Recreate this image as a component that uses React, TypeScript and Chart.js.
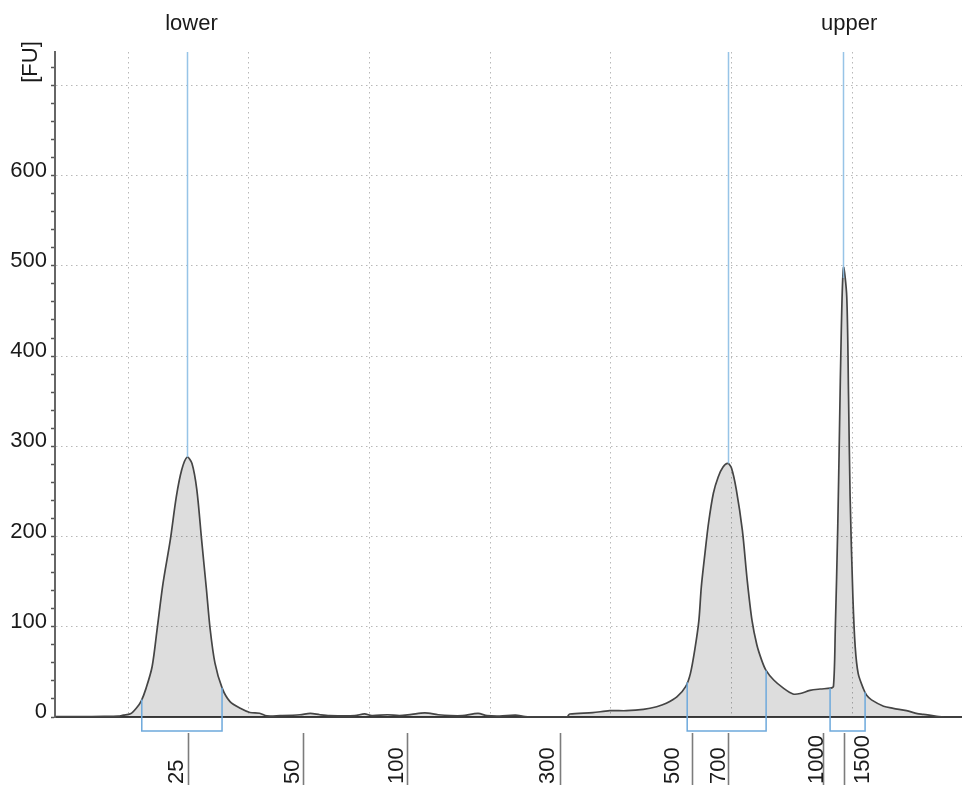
import React, { useEffect, useRef } from 'react';
import { Chart, registerables } from 'chart.js';

Chart.register(...registerables);

// Migration time (s) and fluorescence (FU)
const timeSec = [
  44.0, 46.0, 48.0, 49.2, 49.6, 50.2, 50.7, 51.1, 51.5, 52.0, 52.4, 52.9, 53.5, 54.0, 54.45, 54.9,
  55.3, 55.7, 56.1, 56.5, 56.8, 57.2, 57.8, 58.45, 59.3, 60.1, 60.9, 61.5, 62.6, 64.25, 65.1, 65.9,
  66.7, 68.8, 69.6, 70.2, 71.5, 72.5, 73.5, 74.6, 75.7, 76.7, 77.7, 79.0, 79.75, 80.8, 82.1, 82.9,
  84.1, 85.8, 86.4, 86.6, 88.5, 89.9, 91.3, 92.7, 93.8, 94.6, 95.5, 96.2, 96.6, 97.0, 97.3, 97.5,
  97.8, 98.1, 98.5, 98.9, 99.3, 99.7, 100.0, 100.4, 100.9, 101.3, 101.7, 102.1, 102.5, 102.85, 103.5,
  104.3, 105.1, 105.7, 106.5, 107.35, 108.2, 108.45, 108.6, 108.8, 108.95, 109.1, 109.28, 109.55,
  109.7, 109.83, 110.06, 110.25, 110.5, 110.94, 111.2, 111.6, 112.6, 113.4, 114.5, 115.4, 115.9,
  117.0, 117.6,
];
const fluorescence = [
  0.5, 0.5, 0.6, 1.0, 2.0, 3.5, 10, 18, 32, 56, 96, 148, 196, 244, 274, 288,
  281, 252, 196, 141, 98, 60, 32, 17, 9.6, 5, 4.2, 1.2, 1.5, 2.5, 4, 2.5,
  1.5, 1.5, 3.5, 1.5, 2.5, 1.5, 3, 4.5, 2.5, 1.5, 1.5, 4, 1.5, 1, 2, 0.5,
  0, 0, 0.5, 3.3, 4.8, 7, 7, 8.5, 11.4, 15.2, 22.5, 33.6, 48.4, 78, 107, 144,
  181, 215, 248, 266, 277, 281, 276, 252, 207, 152, 107, 80, 63, 52, 41,
  32, 25.5, 26, 29.5, 31, 32, 34, 96, 207, 318, 429, 498, 466,
  355, 244, 133, 78, 48, 31, 24, 19, 12, 9.6, 7, 3.8, 3.0,
  0.8, 0,
];

const gridTimes = [50, 60, 70, 80, 90, 100, 110];
const yTickValues = [0, 20, 40, 60, 80, 100, 120, 140, 160, 180, 200, 220, 240, 260, 280, 300, 320, 340, 360, 380, 400, 420, 440, 460, 480, 500, 520, 540, 560, 580, 600, 620, 640, 660, 680, 700, 720];
const yLabelled = [0, 100, 200, 300, 400, 500, 600];

const ladderSizes = ['25', '50', '100', '300', '500', '700', '1000', '1500'];
const ladderTimes = [54.95, 64.5, 73.1, 85.8, 96.7, 99.7, 107.6, 109.3];

const markerNames = ['lower', '', 'upper'];
const markerTimes = [54.9, 99.7, 109.25];

const regionStarts = [51.14, 96.33, 108.17];
const regionEnds = [57.79, 102.87, 111.07];

// layout-only: offset of each ladder label baseline from its line (px, negative = left)
const ladderLabelShift = [-6, -5, -5, -7, -14, -4, -1, 24];

const FONT = '"Liberation Sans", Arial, sans-serif';

function valueAt(t: number): number {
  if (t <= timeSec[0]) return fluorescence[0];
  for (let i = 1; i < timeSec.length; i++) {
    if (t <= timeSec[i]) {
      const f = (t - timeSec[i - 1]) / (timeSec[i] - timeSec[i - 1]);
      return fluorescence[i - 1] + f * (fluorescence[i] - fluorescence[i - 1]);
    }
  }
  return fluorescence[fluorescence.length - 1];
}

const overlay = {
  id: 'overlay',
  afterDatasetsDraw(chart: any) {
    const { ctx, chartArea, scales } = chart;
    const x = scales.x;
    const y = scales.y;
    ctx.save();
    // marker lines
    ctx.strokeStyle = 'rgba(140,190,228,0.9)';
    ctx.lineWidth = 1.5;
    markerTimes.forEach((t) => {
      const px = Math.round(x.getPixelForValue(t)) + 0.5;
      const py = y.getPixelForValue(valueAt(t));
      ctx.beginPath();
      ctx.moveTo(px, chartArea.top);
      ctx.lineTo(px, py);
      ctx.stroke();
    });
    // integration brackets
    const by = chartArea.bottom + 14;
    ctx.strokeStyle = '#6ea9dc';
    ctx.lineWidth = 1.5;
    regionStarts.forEach((s, i) => {
      const e = regionEnds[i];
      const x1 = x.getPixelForValue(s);
      const x2 = x.getPixelForValue(e);
      ctx.beginPath();
      ctx.moveTo(x1, y.getPixelForValue(valueAt(s)));
      ctx.lineTo(x1, by);
      ctx.lineTo(x2, by);
      ctx.lineTo(x2, y.getPixelForValue(valueAt(e)));
      ctx.stroke();
    });
    ctx.restore();
  },
  afterDraw(chart: any) {
    const { ctx, chartArea, scales } = chart;
    const x = scales.x;
    const H = chart.height;
    ctx.save();
    // ladder lines and labels
    ctx.font = `22px ${FONT}`;
    ctx.fillStyle = '#1a1a1a';
    ladderTimes.forEach((t, i) => {
      const px = Math.round(x.getPixelForValue(t)) + 0.5;
      ctx.strokeStyle = '#7c7c7c';
      ctx.lineWidth = 1.6;
      ctx.beginPath();
      ctx.moveTo(px, chartArea.bottom + 16);
      ctx.lineTo(px, H);
      ctx.stroke();
      ctx.save();
      ctx.translate(px + ladderLabelShift[i], H - 1);
      ctx.rotate(-Math.PI / 2);
      ctx.textAlign = 'left';
      ctx.textBaseline = 'alphabetic';
      ctx.fillText(ladderSizes[i], 0, 0);
      ctx.restore();
    });
    // marker names
    ctx.textAlign = 'left';
    ctx.textBaseline = 'alphabetic';
    markerNames.forEach((n, i) => {
      if (!n) return;
      const px = x.getPixelForValue(markerTimes[i]);
      ctx.fillText(n, px - 22, 30);
    });
    // y unit label
    ctx.save();
    ctx.translate(37, 62);
    ctx.rotate(-Math.PI / 2);
    ctx.textAlign = 'center';
    ctx.fillText('[FU]', 0, 0);
    ctx.restore();
    ctx.restore();
  },
};

export default function App() {
  const ref = useRef<HTMLCanvasElement | null>(null);
  useEffect(() => {
    document.body.style.margin = '0';
    const canvas = ref.current;
    if (!canvas) return;
    const points = timeSec.map((t, i) => ({ x: t, y: fluorescence[i] }));
    const chart = new Chart(canvas, {
      type: 'line',
      data: {
        datasets: [
          {
            data: points,
            borderColor: '#454545',
            borderWidth: 1.7,
            backgroundColor: 'rgba(0,0,0,0.135)',
            fill: 'origin',
            pointRadius: 0,
            tension: 0.3,
          },
        ],
      },
      options: {
        responsive: false,
        devicePixelRatio: 1,
        animation: false,
        layout: { padding: { top: 52, left: 0, right: 0, bottom: 0 } },
        plugins: { legend: { display: false }, tooltip: { enabled: false } },
        scales: {
          x: {
            type: 'linear',
            min: 43.95,
            max: 119.1,
            afterBuildTicks: (s: any) => {
              s.ticks = gridTimes.map((v) => ({ value: v }));
            },
            afterFit: (s: any) => {
              s.height = 68;
            },
            ticks: { display: false },
            grid: { color: '#b8b8b8', lineWidth: 1, drawTicks: false },
            border: { display: true, color: '#3f3f3f', width: 2, dash: [1.5, 3.5] },
          },
          y: {
            type: 'linear',
            min: 0,
            max: 737,
            afterBuildTicks: (s: any) => {
              s.ticks = yTickValues.map((v) => ({ value: v }));
            },
            afterFit: (s: any) => {
              s.width = 55;
            },
            ticks: {
              autoSkip: false,
              padding: 4,
              labelOffset: -5,
              color: '#1a1a1a',
              font: { family: FONT, size: 22 },
              callback: (v: any) => (yLabelled.includes(Number(v)) ? String(v) : ''),
            },
            grid: {
              color: (c: any) =>
                c.tick && c.tick.value % 100 === 0 && c.tick.value > 0 ? '#b8b8b8' : 'rgba(0,0,0,0)',
              lineWidth: 1,
              tickColor: '#555',
              tickLength: 4,
              tickWidth: 1.5,
              tickBorderDash: [],
            },
            border: { display: true, color: '#666', width: 2, dash: [1.5, 3.5] },
          },
        },
      },
      plugins: [overlay],
    } as any);
    return () => chart.destroy();
  }, []);
  return <canvas ref={ref} width={962} height={785} style={{ display: 'block' }} />;
}
